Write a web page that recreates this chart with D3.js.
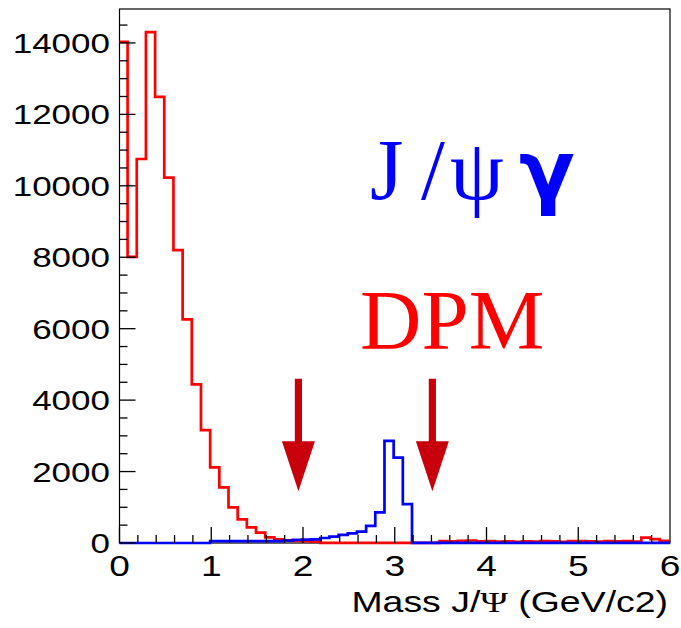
<!DOCTYPE html>
<html>
<head>
<meta charset="utf-8">
<script src="https://cdn.jsdelivr.net/npm/d3@7/dist/d3.min.js"></script>
<style>
  html, body { margin: 0; padding: 0; background: #fff; }
  svg { display: block; }
</style>
</head>
<body>
<svg id="chart" width="681" height="628"></svg>
<script>
// Histogram binning (GeV): first bin is clipped at 0, then regular 0.1 GeV bins.
const binOffset = 0.088;
const binWidth = 0.1;
const xMin = 0, xMax = 6;

// DPM background (red), counts per bin
const dpmCounts = [
  14030, 8010, 10750, 14300, 12490, 10230, 8200, 6260, 4440, 3160,
  2120, 1560, 1000, 660, 440, 290, 160, 105, 75, 60,
  50, 40, 5, 5, 5, 5, 5, 5, 5, 5,
  5, 5, 5, 5, 5, 50, 45, 60, 70, 45,
  55, 40, 45, 35, 45, 40, 50, 45, 35, 50,
  55, 45, 40, 50, 45, 50, 40, 150, 110, 60,
  60
];

// J/psi gamma signal (blue), counts per bin
const signalCounts = [
  0, 0, 0, 0, 0, 0, 0, 0, 0, 0,
  55, 55, 55, 55, 55, 55, 55, 55, 65, 90,
  95, 100, 140, 180, 225, 270, 320, 480, 860, 2860,
  2390, 1090, 5, 5, 5, 5, 5, 5, 5, 5,
  5, 5, 5, 5, 5, 5, 5, 5, 5, 5,
  5, 5, 5, 5, 5, 5, 5, 5, 5, 5,
  5
];

// Cut markers (GeV)
const cutPositions = [1.95, 3.41];
const cutArrowTop = 4600;
const cutArrowTip = 1450;

const yTickValues = [0, 2000, 4000, 6000, 8000, 10000, 12000, 14000];
const xTickValues = [0, 1, 2, 3, 4, 5, 6];
const yMax = 14950;

const xTitle = "Mass J/";
const xTitlePsi = "Ψ";
const xTitleTail = " (GeV/c2)";

// ---------------------------------------------------------------
const svg = d3.select("#chart");
const frame = { left: 119.5, right: 670, top: 9, bottom: 543 };

const x = d3.scaleLinear().domain([xMin, xMax]).range([frame.left, frame.right]);
const y = d3.scaleLinear().domain([0, yMax]).range([frame.bottom, frame.top]);

function binEdges(n) {
  const edges = [xMin];
  for (let i = 0; i < n - 1; i++) edges.push(binOffset + i * binWidth);
  edges.push(xMax);
  return edges.map(e => Math.min(Math.max(e, xMin), xMax));
}

function stepPath(counts) {
  const edges = binEdges(counts.length);
  let d = "";
  counts.forEach((c, i) => {
    const x0 = x(edges[i]), x1 = x(edges[i + 1]), yy = y(c);
    d += (i === 0 ? "M" : "L") + x0 + "," + yy + "L" + x1 + "," + yy;
  });
  return d;
}

svg.append("rect").attr("width", 681).attr("height", 628).attr("fill", "#fff");

// frame
svg.append("rect")
  .attr("x", frame.left).attr("y", frame.top)
  .attr("width", frame.right - frame.left).attr("height", frame.bottom - frame.top)
  .attr("fill", "none").attr("stroke", "#000").attr("stroke-width", 1.2);

// histograms
svg.append("path").attr("d", stepPath(dpmCounts))
  .attr("fill", "none").attr("stroke", "#ff0000").attr("stroke-width", 2.7)
  .attr("stroke-linejoin", "miter");
svg.append("path").attr("d", stepPath(signalCounts))
  .attr("fill", "none").attr("stroke", "#0000ff").attr("stroke-width", 2.7)
  .attr("stroke-linejoin", "miter");

// ticks drawn inside the frame
const ticks = svg.append("g").attr("stroke", "#000").attr("stroke-width", 1.3);
d3.range(0, yMax, 500).forEach(v => {
  const major = v % 2000 === 0;
  ticks.append("line")
    .attr("x1", frame.left).attr("x2", frame.left + (major ? 16 : 8))
    .attr("y1", y(v)).attr("y2", y(v));
});
d3.range(0, 30).forEach(k => {
  const v = k * 0.2;
  const major = k % 5 === 0;
  ticks.append("line")
    .attr("x1", x(v)).attr("x2", x(v))
    .attr("y1", frame.bottom).attr("y2", frame.bottom - (major ? 16 : 8));
});

// tick labels (wide sans)
const labelFont = "'Liberation Sans', Arial, Helvetica, sans-serif";
svg.append("g").selectAll("text").data(yTickValues).join("text")
  .attr("transform", d => `translate(110,${y(d)}) scale(1.25,1)`)
  .attr("dy", "0.36em")
  .attr("text-anchor", "end")
  .attr("font-family", labelFont).attr("font-size", 28)
  .text(d => d);
svg.append("g").selectAll("text").data(xTickValues).join("text")
  .attr("transform", d => `translate(${x(d)},576) scale(1.28,1)`)
  .attr("text-anchor", "middle")
  .attr("font-family", labelFont).attr("font-size", 29)
  .text(d => d);

// axis title
const title = svg.append("text")
  .attr("transform", `translate(668,612) scale(1.29,1)`)
  .attr("text-anchor", "end")
  .attr("font-family", labelFont).attr("font-size", 29);
title.append("tspan").text(xTitle);
title.append("tspan").attr("font-family", "'Liberation Serif', 'Times New Roman', serif").text(xTitlePsi);
title.append("tspan").text(xTitleTail);

// cut arrows
const arrowColor = "#c8000c";
cutPositions.forEach(c => {
  const cx = x(c), top = y(cutArrowTop), tip = y(cutArrowTip);
  const headH = 50, headW = 16.5, shaftW = 3.6;
  svg.append("path")
    .attr("d", `M${cx - shaftW},${top} L${cx + shaftW},${top} L${cx + shaftW},${tip - headH}` +
               ` L${cx + headW},${tip - headH} L${cx},${tip} L${cx - headW},${tip - headH}` +
               ` L${cx - shaftW},${tip - headH} Z`)
    .attr("fill", arrowColor);
});

// labels
const serif = "'Liberation Serif', 'Times New Roman', serif";
const sig = svg.append("text").attr("fill", "#0000ff").attr("font-size", 86).attr("font-family", serif);
sig.append("tspan").attr("x", 370).attr("y", 199).text("J");
sig.append("tspan").attr("x", 421).attr("y", 199).text("/");
sig.append("tspan").attr("x", 450).attr("y", 199).text("ψ");
sig.append("tspan").attr("x", 519).attr("y", 199)
  .attr("font-family", "'DejaVu Sans', sans-serif").attr("font-weight", "bold").attr("font-size", 82).text("γ");

svg.append("text")
  .attr("x", 360).attr("y", 349)
  .attr("fill", "#ff0000").attr("font-size", 85).attr("font-family", serif)
  .text("DPM");
</script>
</body>
</html>
